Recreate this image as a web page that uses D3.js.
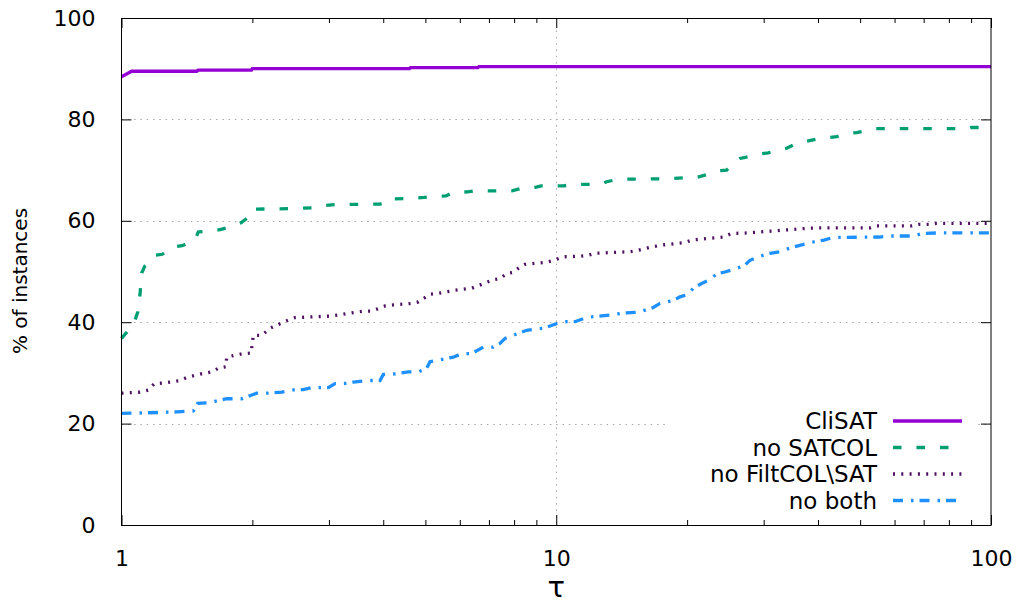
<html lang="en">
<head>
  <meta charset="UTF-8"/>
  <title>Performance profile</title>
  <script src="https://d3js.org/d3.v7.min.js"></script>
  <style>
    body { margin: 0; background: #fff; }
    svg { display: block; font-family: 'DejaVu Sans', sans-serif; }
    .tick text { font-size: 22px; fill: #000; }
    .domain { display: none; }
    .tick line { stroke: #000; }
  </style>
</head>
<body>
  <svg width="1017" height="605"></svg>

  <script>

  const seriesNames = ['CliSAT', 'no SATCOL', 'no FiltCOL\\SAT', 'no both'];
  const seriesColors = ['#9400d3', '#009e73', '#4e1060', '#1e90ff'];
  const seriesDash = [null, '8.5,15', '2,6.3', '10,8,2.5,6'];

  const xTicks = [1, 10, 100];
  const xMinor = [2, 3, 4, 5, 6, 7, 8, 9, 20, 30, 40, 50, 60, 70, 80, 90];
  const yTicks = [0, 20, 40, 60, 80, 100];
  const yGrid = [20, 40, 60, 80];
  const xGrid = [10];

  // [tau, % of instances]
  const clisat = [
    [1, 88.4], [1.03, 89.0], [1.055, 89.5], [1.49, 89.5], [1.50, 89.7], [1.99, 89.7],
    [2.0, 90.0], [4.6, 90.0], [4.62, 90.2], [6.6, 90.2], [6.64, 90.4], [100, 90.4]
  ];

  const noSatcol = [
    [1, 36.8], [1.028, 38.0], [1.074, 40.4], [1.09, 42.0], [1.103, 45.5], [1.113, 49.7],
    [1.132, 51.1], [1.194, 53.2], [1.241, 53.4], [1.321, 54.9], [1.38, 55.1], [1.476, 56.2],
    [1.502, 57.8], [1.621, 58.0], [1.694, 58.3], [1.817, 59.0], [1.883, 59.6], [1.986, 61.1],
    [2.004, 62.3], [2.5, 62.4], [2.787, 62.6], [2.896, 63.0], [3.098, 63.2], [3.93, 63.3],
    [3.968, 63.4], [4.074, 64.3], [4.567, 64.4], [4.971, 64.6], [5.151, 64.8], [5.577, 64.9],
    [5.779, 65.6], [6.257, 65.7], [6.481, 65.9], [7.9, 65.9], [8.25, 66.3], [8.855, 66.5],
    [9.224, 66.9], [10.38, 66.9], [11.2, 67.2], [12.68, 67.2], [13.06, 67.7], [13.89, 68.2],
    [17.88, 68.3], [20.13, 68.5], [21.1, 68.6], [22.37, 69.2], [23.19, 69.8], [24.66, 70.0],
    [25.32, 71.1], [26.47, 72.3], [27.57, 72.6], [29.43, 73.2], [30.74, 73.4], [32.59, 74.0],
    [33.89, 74.3], [35.73, 75.3], [37.19, 75.6], [39.73, 76.1], [41.3, 76.3], [44.18, 76.6],
    [45.76, 77.1], [49.1, 77.4], [51.11, 77.7], [54.38, 78.2], [88.5, 78.2], [90, 78.4],
    [100, 78.4]
  ];

  const noFiltcol = [
    [1, 26.0], [1.103, 26.2], [1.152, 26.6], [1.19, 27.9], [1.248, 28.0], [1.363, 28.5],
    [1.413, 29.1], [1.542, 29.9], [1.613, 30.2], [1.676, 31.0], [1.736, 31.2], [1.746, 33.1],
    [1.824, 33.5], [1.906, 33.8], [1.986, 33.9], [2.01, 37.4], [2.101, 37.4], [2.196, 38.8],
    [2.246, 39.2], [2.419, 40.4], [2.506, 40.9], [3.017, 41.2], [3.152, 41.4], [3.296, 41.7],
    [3.599, 42.2], [3.763, 42.2], [4.038, 43.2], [4.219, 43.4], [4.65, 43.7], [4.816, 44.0],
    [5.124, 45.5], [5.355, 45.7], [5.85, 46.3], [6.113, 46.5], [6.392, 46.7], [6.619, 47.2],
    [7.165, 48.4], [7.423, 48.6], [7.691, 49.6], [7.939, 49.8], [8.252, 50.9], [8.474, 51.4],
    [9.175, 51.7], [9.587, 51.9], [10.02, 52.4], [10.38, 52.9], [11.34, 53.0], [11.85, 53.2],
    [12.28, 53.6], [14.78, 53.9], [15.44, 54.2], [16.72, 54.9], [17.48, 55.2], [19.78, 55.7],
    [20.49, 56.2], [24.23, 56.8], [25.32, 57.5], [27.42, 57.6], [37.68, 58.5], [39.73, 58.6],
    [52.68, 58.6], [54.58, 59.0], [65.7, 59.0], [68.41, 59.3], [72.4, 59.3], [75.0, 59.5],
    [100, 59.5]
  ];

  const noBoth = [
    [1, 22.0], [1.113, 22.1], [1.34, 22.3], [1.463, 22.5], [1.476, 23.0], [1.497, 24.0],
    [1.584, 24.1], [1.641, 24.4], [1.746, 24.9], [1.89, 24.9], [1.986, 25.6], [2.046, 26.0],
    [2.176, 26.0], [2.336, 26.2], [2.506, 26.7], [2.619, 26.7], [2.739, 27.1], [2.99, 27.1],
    [3.098, 27.9], [3.249, 27.9], [3.414, 28.2], [3.695, 28.5], [3.932, 28.5], [4.002, 29.7],
    [4.257, 29.8], [4.567, 30.2], [4.816, 30.2], [5.035, 30.9], [5.124, 32.2], [5.548, 32.8],
    [5.798, 33.1], [6.061, 33.8], [6.392, 33.8], [6.797, 35.1], [7.165, 35.1], [7.423, 35.8],
    [7.625, 36.8], [8.178, 37.8], [8.551, 38.4], [8.935, 38.6], [9.337, 38.8], [10.02, 39.7],
    [10.57, 40.1], [11.04, 40.1], [11.54, 40.7], [11.85, 41.0], [13.29, 41.4], [14.26, 41.8],
    [15.58, 42.0], [16.14, 42.5], [16.72, 42.9], [17.32, 43.7], [18.59, 44.3], [19.26, 45.0],
    [20.13, 45.5], [20.66, 46.7], [21.79, 47.8], [22.78, 48.6], [23.39, 49.6], [24.44, 49.9],
    [26.01, 50.6], [27.18, 51.3], [27.9, 52.2], [29.16, 52.9], [31.02, 53.6], [32.71, 53.9],
    [33.89, 54.4], [35.41, 54.9], [37.68, 55.5], [39.38, 55.9], [41.3, 56.2], [43.25, 56.7],
    [55.34, 56.8], [59.4, 57.0], [66.06, 57.0], [69.66, 57.5], [75.01, 57.6], [100, 57.6]
  ];

  const seriesData = [clisat, noSatcol, noFiltcol, noBoth];

  const svg = d3.select('svg');

  const plotLeft = 121.5, plotRight = 991, plotTop = 18, plotBottom = 525;

  const xScale = d3.scaleLog()
    .domain([1, 100])
    .range([plotLeft, plotRight]);

  const yScale = d3.scaleLinear()
    .domain([0, 100])
    .range([plotBottom, plotTop]);

  // grid (gnuplot style dotted)
  const grid = svg.append('g')
    .attr('stroke', '#a8a8a8')
    .attr('stroke-width', 1)
    .attr('stroke-dasharray', '1.5,4.8');

  grid.selectAll('.hgrid')
    .data(yGrid)
    .enter()
    .append('line')
    .attr('x1', plotLeft)
    .attr('x2', plotRight)
    .attr('y1', (d) => Math.round(yScale(d)) + 0.5)
    .attr('y2', (d) => Math.round(yScale(d)) + 0.5)

  grid.selectAll('.vgrid')
    .data(xGrid)
    .enter()
    .append('line')
    .attr('x1', (d) => Math.round(xScale(d)) + 0.5)
    .attr('x2', (d) => Math.round(xScale(d)) + 0.5)
    .attr('y1', plotTop)
    .attr('y2', plotBottom)

  // axes: ticks inward on all four sides
  svg.append('g')
    .attr('transform', `translate(0, ${plotBottom})`)
    .call(d3.axisBottom(xScale).tickValues(xTicks).tickSize(-10).tickPadding(25).tickFormat(d3.format('d')));

  svg.append('g')
    .attr('transform', `translate(0, ${plotBottom})`)
    .call(d3.axisBottom(xScale).tickValues(xMinor).tickSize(-5).tickFormat(''));

  svg.append('g')
    .attr('transform', `translate(0, ${plotTop})`)
    .call(d3.axisTop(xScale).tickValues(xTicks).tickSize(-10).tickFormat(''));

  svg.append('g')
    .attr('transform', `translate(0, ${plotTop})`)
    .call(d3.axisTop(xScale).tickValues(xMinor).tickSize(-5).tickFormat(''));

  svg.append('g')
    .attr('transform', `translate(${plotLeft}, 0)`)
    .call(d3.axisLeft(yScale).tickValues(yTicks).tickSize(-10).tickPadding(26));

  svg.append('g')
    .attr('transform', `translate(${plotRight}, 0)`)
    .call(d3.axisRight(yScale).tickValues(yTicks).tickSize(-10).tickFormat(''));

  svg.selectAll('.tick text').attr('font-family', 'DejaVu Sans');

  // legend box (opaque, hides the grid)
  const legend = svg.append('g');

  legend.append('rect')
    .attr('x', 667)
    .attr('y', 406)
    .attr('width', 310)
    .attr('height', 107)
    .attr('fill', '#fff')

  // curves
  const line = d3.line()
    .x((d) => xScale(d[0]))
    .y((d) => yScale(d[1]));

  svg.append('g')
    .selectAll('path')
    .data(seriesData)
    .enter()
    .append('path')
    .attr('d', line)
    .attr('fill', 'none')
    .attr('stroke', (d, i) => seriesColors[i])
    .attr('stroke-width', 3.3)
    .attr('stroke-dasharray', (d, i) => seriesDash[i])
    .attr('stroke-linejoin', 'miter')

  const rows = legend.selectAll('.row')
    .data(seriesNames)
    .enter()
    .append('g')
    .attr('transform', (d, i) => `translate(0, ${421 + i * 26.5})`)

  rows.append('text')
    .attr('x', 877)
    .attr('y', 8)
    .attr('text-anchor', 'end')
    .attr('font-size', '23px')
    .text((d) => d)

  rows.append('line')
    .attr('x1', 893)
    .attr('x2', 962)
    .attr('y1', 0)
    .attr('y2', 0)
    .attr('stroke', (d, i) => seriesColors[i])
    .attr('stroke-width', 3.3)
    .attr('stroke-dasharray', (d, i) => seriesDash[i])

  // border
  svg.append('rect')
    .attr('x', plotLeft)
    .attr('y', plotTop + 0.5)
    .attr('width', plotRight - plotLeft)
    .attr('height', plotBottom - plotTop)
    .attr('fill', 'none')
    .attr('stroke', '#000')
    .attr('stroke-width', 1)

  // axis labels
  svg.append('text')
    .attr('transform', 'translate(27, 281) rotate(-90)')
    .attr('text-anchor', 'middle')
    .attr('font-size', '20px')
    .text('% of instances')

  svg.append('text')
    .attr('x', (plotLeft + plotRight) / 2)
    .attr('y', 597)
    .attr('text-anchor', 'middle')
    .attr('font-size', '29px')
    .text('τ')

  </script>
</body>
</html>
